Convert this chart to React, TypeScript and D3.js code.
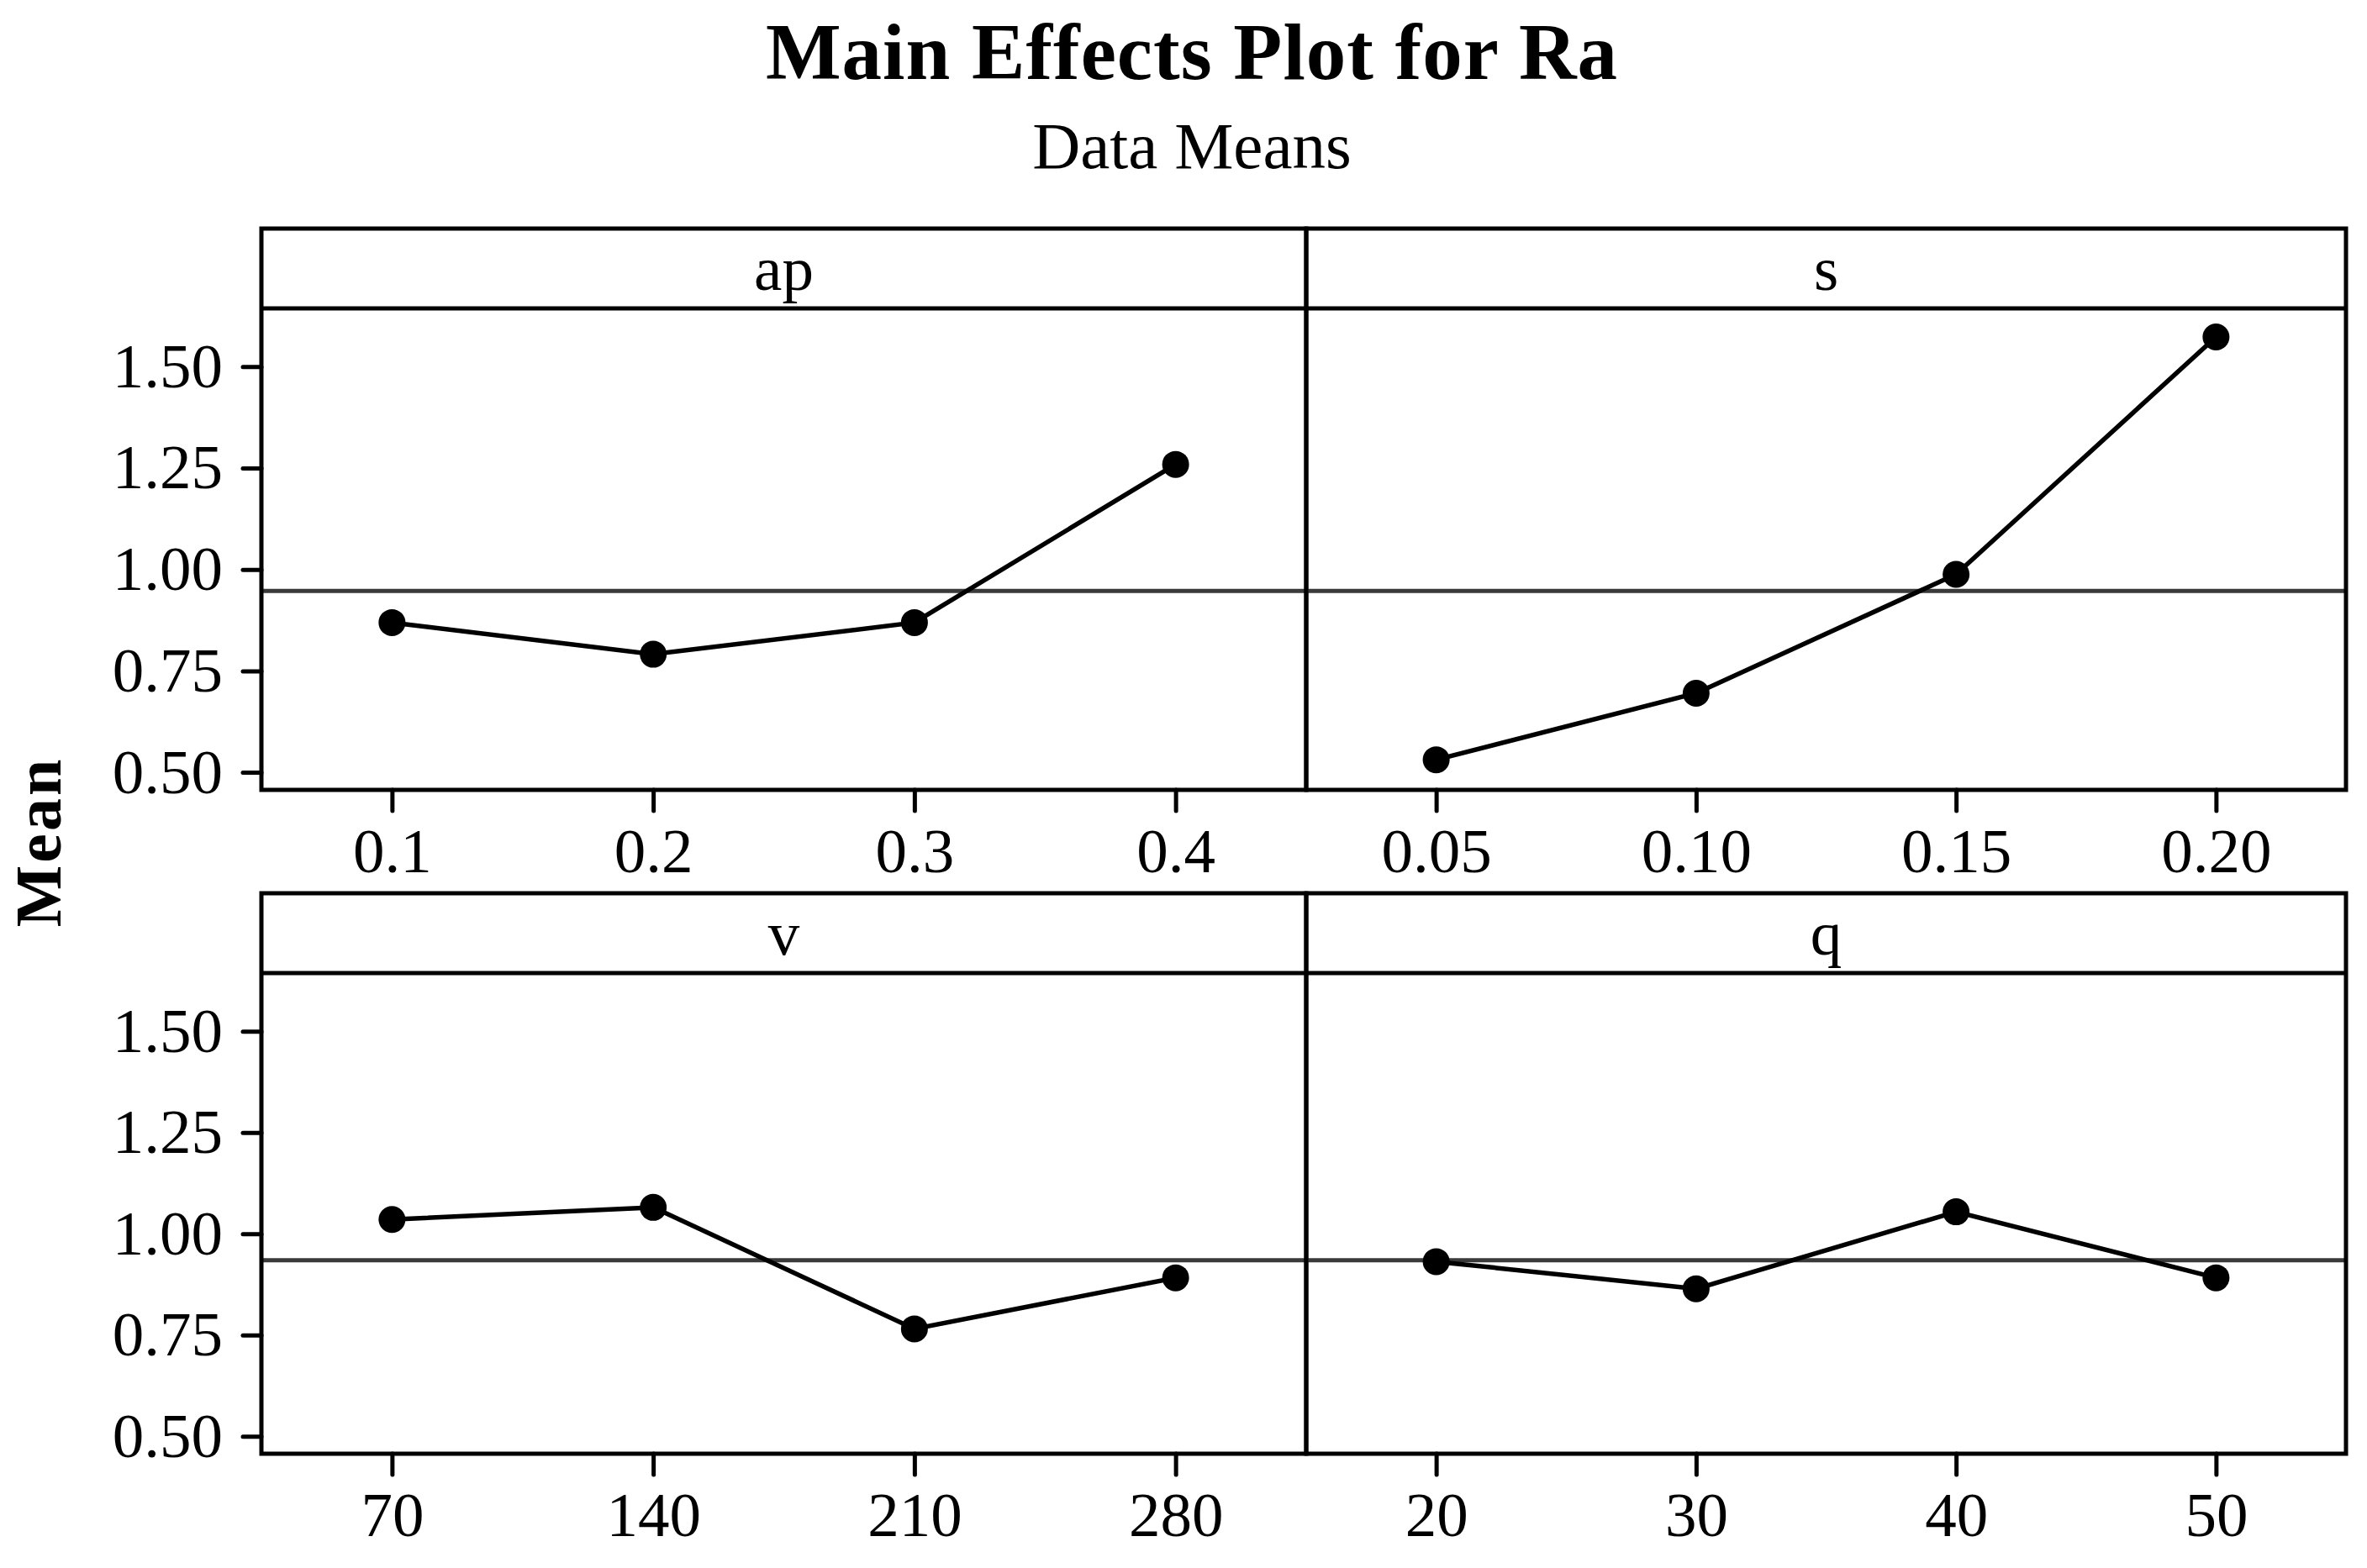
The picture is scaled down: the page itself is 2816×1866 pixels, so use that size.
import React, { useRef, useEffect } from "react";
import * as d3 from "d3";

// factor names (strip labels)
const factors = ["ap", "s", "v", "q"];

// levels of each factor (x tick labels)
const apLevels = ["0.1", "0.2", "0.3", "0.4"];
const sLevels = ["0.05", "0.10", "0.15", "0.20"];
const vLevels = ["70", "140", "210", "280"];
const qLevels = ["20", "30", "40", "50"];

// mean of Ra at each level
const apMeans = [0.869, 0.791, 0.869, 1.259];
const sMeans = [0.531, 0.695, 0.988, 1.573];
const vMeans = [1.035, 1.065, 0.765, 0.891];
const qMeans = [0.931, 0.864, 1.054, 0.891];

// grand mean reference line, as drawn in each panel
const grandMeans = [0.947, 0.947, 0.9345, 0.9345];

const yTicks = [0.5, 0.75, 1.0, 1.25, 1.5];
const yDomain: [number, number] = [0.4567, 1.6435];

const levels = [apLevels, sLevels, vLevels, qLevels];
const means = [apMeans, sMeans, vMeans, qMeans];

const W = 2816;
const H = 1866;
const FONT = "'Liberation Serif', 'Times New Roman', serif";

const App = () => {
    const svgRef = useRef<SVGSVGElement>(null);

    useEffect(() => {
        if (!svgRef.current) return;
        const svg = d3.select(svgRef.current);
        svg.selectAll("*").remove();

        const colX = [311, 1554, 2791];
        const rowTop = [272, 1063];
        const rowBottom = [940, 1730];
        const stripH = 95;

        // titles
        svg.append("text")
            .attr("x", 1418)
            .attr("y", 94)
            .attr("text-anchor", "middle")
            .style("font-family", FONT)
            .style("font-size", "95px")
            .style("font-weight", "bold")
            .style("letter-spacing", "1px")
            .text("Main Effects Plot for Ra");

        svg.append("text")
            .attr("x", 1418)
            .attr("y", 200)
            .attr("text-anchor", "middle")
            .style("font-family", FONT)
            .style("font-size", "79px")
            .text("Data Means");

        svg.append("text")
            .attr("transform", `translate(72,1002) rotate(-90)`)
            .attr("text-anchor", "middle")
            .style("font-family", FONT)
            .style("font-size", "78px")
            .style("font-weight", "bold")
            .style("letter-spacing", "3px")
            .text("Mean");

        factors.forEach((name, i) => {
            const col = i % 2;
            const row = Math.floor(i / 2);
            const x0 = colX[col];
            const x1 = colX[col + 1];
            const top = rowTop[row];
            const bottom = rowBottom[row];

            const x = d3.scalePoint<string>()
                .domain(levels[i])
                .range([x0, x1])
                .padding(0.5);

            const y = d3.scaleLinear()
                .domain(yDomain)
                .range([bottom, top + stripH]);

            const g = svg.append("g");

            // x axis
            const xAxis = g.append("g")
                .attr("transform", `translate(0,${bottom})`)
                .call(d3.axisBottom(x).tickSize(25).tickPadding(20));
            xAxis.select(".domain").remove();
            xAxis.selectAll(".tick line")
                .attr("stroke", "#000")
                .attr("stroke-width", 5)
                .attr("stroke-linecap", "round");
            xAxis.selectAll("text")
                .attr("fill", "#000")
                .style("font-family", FONT)
                .style("font-size", "75px");

            // y axis only on the left column
            if (col === 0) {
                const yAxis = g.append("g")
                    .attr("transform", `translate(${x0},0)`)
                    .call(d3.axisLeft(y).tickValues(yTicks).tickFormat(d3.format(".2f")).tickSize(22).tickPadding(24));
                yAxis.select(".domain").remove();
                yAxis.selectAll(".tick line")
                    .attr("stroke", "#000")
                    .attr("stroke-width", 5)
                    .attr("stroke-linecap", "round");
                yAxis.selectAll("text")
                    .attr("fill", "#000")
                    .style("font-family", FONT)
                    .style("font-size", "75px");
            }

            // grand mean line
            g.append("line")
                .attr("x1", x0)
                .attr("x2", x1)
                .attr("y1", y(grandMeans[i]))
                .attr("y2", y(grandMeans[i]))
                .attr("stroke", "#3a3a3a")
                .attr("stroke-width", 5);

            // frame and strip
            g.append("rect")
                .attr("x", x0)
                .attr("y", top)
                .attr("width", x1 - x0)
                .attr("height", bottom - top)
                .attr("fill", "none")
                .attr("stroke", "#000")
                .attr("stroke-width", 5);

            g.append("line")
                .attr("x1", x0)
                .attr("x2", x1)
                .attr("y1", top + stripH)
                .attr("y2", top + stripH)
                .attr("stroke", "#000")
                .attr("stroke-width", 5);

            g.append("text")
                .attr("x", (x0 + x1) / 2)
                .attr("y", top + 73)
                .attr("text-anchor", "middle")
                .style("font-family", FONT)
                .style("font-size", "75px")
                .text(name);

            const pts = levels[i].map((lv, j) => ({ lv, m: means[i][j] }));

            const line = d3.line<{ lv: string; m: number }>()
                .x((d) => x(d.lv) as number)
                .y((d) => y(d.m));

            g.append("path")
                .datum(pts)
                .attr("d", line)
                .attr("fill", "none")
                .attr("stroke", "#000")
                .attr("stroke-width", 5.5);

            g.selectAll(".pt")
                .data(pts)
                .enter()
                .append("circle")
                .attr("cx", (d) => x(d.lv) as number)
                .attr("cy", (d) => y(d.m))
                .attr("r", 16)
                .attr("fill", "#000");
        });
    }, []);

    return (
        <svg
            ref={svgRef}
            width={W}
            height={H}
            style={{ position: "absolute", left: 0, top: 0, background: "#fff" }}
        />
    );
};

export default App;
